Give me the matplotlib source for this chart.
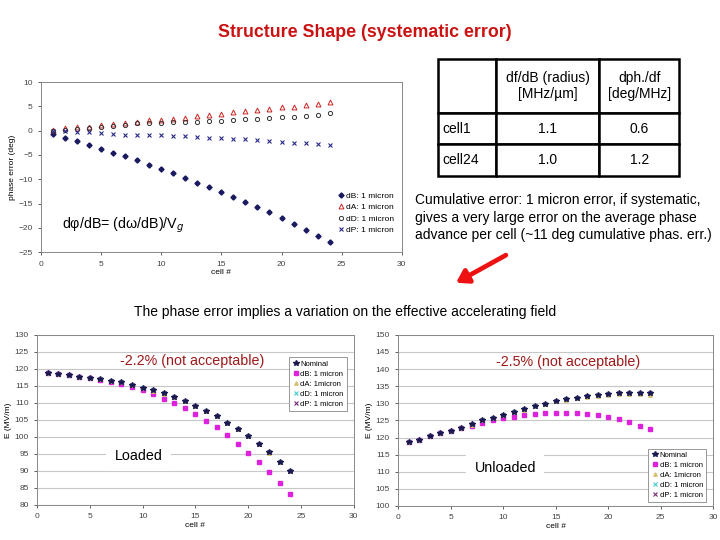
import numpy as np
import matplotlib
matplotlib.use('Agg')
import matplotlib.pyplot as plt

plt.rcParams['font.family'] = ['Liberation Sans', 'DejaVu Sans']

cells = list(range(1, 25))

# phase error (deg) per cell, 1 micron systematic error
phase_dB = [-0.7, -1.6, -2.1, -2.9, -3.7, -4.5, -5.2, -6.1, -7.0, -7.9, -8.8, -9.7,
            -10.8, -11.6, -12.6, -13.6, -14.7, -15.7, -16.8, -18.0, -19.2, -20.4, -21.7, -22.9]
phase_dA = [0.1, 0.5, 0.7, 0.8, 1.1, 1.4, 1.6, 1.8, 2.2, 2.3, 2.5, 2.7,
            3.0, 3.3, 3.5, 3.8, 4.0, 4.3, 4.5, 4.8, 4.9, 5.3, 5.5, 5.8]
phase_dD = [0.0, 0.1, 0.3, 0.5, 0.7, 1.0, 1.2, 1.5, 1.6, 1.6, 1.7, 1.7,
            1.8, 1.9, 2.0, 2.2, 2.5, 2.5, 2.6, 2.8, 2.9, 3.1, 3.3, 3.6]
phase_dP = [-0.1, -0.1, -0.2, -0.3, -0.4, -0.6, -0.8, -0.8, -0.8, -0.9, -1.0, -1.1,
            -1.4, -1.6, -1.6, -1.7, -1.8, -2.0, -2.2, -2.4, -2.5, -2.6, -2.7, -3.0]

# accelerating field E (MV/m), loaded
loaded_nom = [118.9, 118.6, 118.2, 117.7, 117.4, 117.0, 116.4, 116.1, 115.3, 114.5, 113.7, 112.8,
              111.7, 110.6, 109.2, 107.7, 106.1, 104.2, 102.3, 100.3, 97.9, 95.5, 92.7, 90.1]
loaded_dB = [118.9, 118.6, 118.2, 117.7, 117.4, 116.8, 116.2, 115.6, 114.6, 113.8, 112.5, 111.2,
             109.9, 108.4, 106.7, 104.8, 102.8, 100.5, 98.0, 95.4, 92.5, 89.6, 86.5, 83.1]
loaded_dA = [118.9, 118.6, 118.2, 117.7, 117.4, 117.0, 116.4, 116.0, 115.2, 114.4, 113.6, 112.7,
             111.6, 110.5, 109.0, 107.6, 106.0, 104.0, 102.2, 100.2, 97.8, 95.4, 92.6, 90.0]
loaded_dD = [118.9, 118.6, 118.2, 117.7, 117.4, 117.0, 116.4, 116.1, 115.3, 114.5, 113.7, 112.8,
             111.7, 110.6, 109.2, 107.7, 106.1, 104.2, 102.3, 100.3, 97.9, 95.5, 92.7, 90.1]
loaded_dP = [118.9, 118.6, 118.2, 117.7, 117.4, 117.0, 116.4, 116.1, 115.3, 114.5, 113.7, 112.8,
             111.7, 110.6, 109.2, 107.7, 106.1, 104.2, 102.3, 100.3, 97.9, 95.5, 92.7, 90.1]

# accelerating field E (MV/m), unloaded
unl_nom = [118.75, 119.4, 120.4, 121.2, 122.0, 122.9, 123.8, 125.1, 125.8, 126.6, 127.5, 128.2,
           129.2, 129.9, 130.7, 131.2, 131.6, 132.1, 132.4, 132.7, 132.9, 133.1, 133.0, 132.9]
unl_dB = [118.75, 119.4, 120.3, 121.2, 121.9, 122.7, 123.5, 124.2, 125.1, 125.6, 126.1, 126.6,
          127.0, 127.1, 127.3, 127.3, 127.2, 127.0, 126.6, 126.1, 125.4, 124.6, 123.5, 122.4]
unl_dA = [118.75, 119.4, 120.4, 121.2, 122.0, 122.9, 123.7, 125.0, 125.7, 126.5, 127.4, 128.1,
          129.1, 129.8, 130.6, 131.1, 131.4, 131.9, 132.1, 132.4, 132.6, 132.8, 132.6, 132.5]
unl_dD = [118.75, 119.4, 120.4, 121.2, 122.0, 122.9, 123.8, 125.1, 125.8, 126.6, 127.5, 128.2,
          129.2, 129.9, 130.7, 131.2, 131.6, 132.1, 132.4, 132.7, 132.9, 133.1, 133.0, 132.9]
unl_dP = [118.75, 119.4, 120.4, 121.2, 122.0, 122.9, 123.8, 125.1, 125.8, 126.6, 127.5, 128.2,
          129.2, 129.9, 130.7, 131.2, 131.6, 132.1, 132.4, 132.7, 132.9, 133.1, 133.0, 132.9]

table_cols = ['', 'df/dB (radius)\n[MHz/\u00b5m]', 'dph./df\n[deg/MHz]']
table_rows = [['cell1', '1.1', '0.6'],
              ['cell24', '1.0', '1.2']]

fig = plt.figure(figsize=(7.2, 5.4), dpi=100)

fig.text(0.507, 0.939, 'Structure Shape (systematic error)', color='#cc1111',
         fontsize=12.8, fontweight='bold', ha='center', va='center')


def style_axes(ax):
    ax.tick_params(labelsize=6, colors='#444444', length=2.5, width=0.6)
    for s in ax.spines.values():
        s.set_color('#888888')
        s.set_linewidth(0.7)


# ---- top left: phase error ----
ax1 = fig.add_axes([0.057, 0.533, 0.501, 0.315])
ax1.plot(cells, phase_dB, 'D', color='#1a1a5e', ms=2.6, label='dB: 1 micron')
ax1.plot(cells, phase_dA, '^', mfc='none', mec='#cc2222', ms=3.5, mew=0.7, label='dA: 1 micron')
ax1.plot(cells, phase_dD, 'o', mfc='none', mec='#333333', ms=3, mew=0.7, label='dD: 1 micron')
ax1.plot(cells, phase_dP, 'x', color='#2a2a8a', ms=3.5, mew=0.8, label='dP: 1 micron')
ax1.set_xlim(0, 30)
ax1.set_ylim(-25, 10)
ax1.set_xticks(range(0, 31, 5))
ax1.set_yticks(range(-25, 11, 5))
ax1.set_xlabel('cell #', fontsize=6, labelpad=1)
ax1.set_ylabel('phase error (deg)', fontsize=6, labelpad=2)
style_axes(ax1)
ax1.text(0.058, 0.16, 'd\u03c6/dB= (d\u03c9/dB)/V$_g$', transform=ax1.transAxes,
         fontsize=10.3, va='center')
ax1.legend(loc='center right', bbox_to_anchor=(1.0, 0.23), fontsize=6, frameon=False,
           handletextpad=0.1, handlelength=1.0, labelspacing=0.4)

# ---- table ----
tax = fig.add_axes([0.608, 0.674, 0.335, 0.217])
tax.axis('off')
tbl = tax.table(cellText=table_rows, colLabels=table_cols, bbox=[0, 0, 1, 1],
                colWidths=[0.24, 0.43, 0.33], cellLoc='center')
tbl.auto_set_font_size(False)
tbl.set_fontsize(10)
for (r, c), cell in tbl.get_celld().items():
    cell.set_linewidth(1.8)
    if c == 0 and r > 0:
        cell.set_text_props(ha='left')
        cell.PAD = 0.08
tax_h = [0.46, 0.27, 0.27]
for (r, c), cell in tbl.get_celld().items():
    cell.set_height(tax_h[r])

fig.text(0.577, 0.597, 'Cumulative error: 1 micron error, if systematic,\n'
         'gives a very large error on the average phase\n'
         'advance per cell (~11 deg cumulative phas. err.)',
         fontsize=10.0, va='center', ha='left', linespacing=1.3)

fig.patches.append(matplotlib.patches.FancyArrowPatch(
    (0.706, 0.530), (0.630, 0.474), transform=fig.transFigure,
    arrowstyle='-|>,head_length=7,head_width=4.5', color='#ee1111', lw=3.4))

fig.text(0.479, 0.422, 'The phase error implies a variation on the effective accelerating field',
         fontsize=10, ha='center', va='center')


def field_plot(rect, nom, dB, dA, dD, dP, ylim, note, note_xy, tag, tag_xy, leg_loc, leg_anchor):
    ax = fig.add_axes(rect)
    ax.yaxis.grid(True, color='#c8c8c8', lw=0.8)
    ax.set_axisbelow(True)
    ax.plot(cells, nom, '*', color='#1a1a50', ms=4, label='Nominal', zorder=3)
    ax.plot(cells, dB, 's', color='#dd22dd', ms=2.5, label='dB: 1 micron', zorder=2)
    ax.plot(cells, dA, '^', color='#d8c070', ms=2.5, label='dA: 1micron', zorder=2)
    ax.plot(cells, dD, 'x', color='#44cccc', ms=3, mew=0.8, label='dD: 1 micron', zorder=2)
    ax.plot(cells, dP, 'x', color='#7a2a7a', ms=3, mew=0.8, label='dP: 1 micron', zorder=2)
    ax.set_xlim(0, 30)
    ax.set_ylim(*ylim)
    ax.set_xticks(range(0, 31, 5))
    ax.set_yticks(range(ylim[0], ylim[1] + 1, 5))
    ax.set_xlabel('cell #', fontsize=6, labelpad=1)
    ax.set_ylabel('E (MV/m)', fontsize=6, labelpad=2)
    style_axes(ax)
    ax.text(*note_xy, note, transform=ax.transAxes, color='#a01818', fontsize=10.3,
            ha='center', va='center')
    ax.text(*tag_xy, tag, transform=ax.transAxes, fontsize=10.3, ha='center', va='center',
            bbox=dict(facecolor='white', edgecolor='none', pad=6), zorder=4)
    leg = ax.legend(loc=leg_loc, bbox_to_anchor=leg_anchor, fontsize=5.5, handletextpad=0.1,
                    handlelength=1.0, labelspacing=0.35, borderpad=0.4, fancybox=False,
                    framealpha=1)
    leg.get_frame().set_edgecolor('#888888')
    leg.get_frame().set_linewidth(0.6)
    return ax


field_plot([0.0514, 0.065, 0.440, 0.315], loaded_nom, loaded_dB, loaded_dA, loaded_dD, loaded_dP,
           (80, 130), '-2.2% (not acceptable)', (0.49, 0.847), 'Loaded', (0.32, 0.29),
           'upper right', (0.99, 0.89))
field_plot([0.553, 0.063, 0.4375, 0.317], unl_nom, unl_dB, unl_dA, unl_dD, unl_dP,
           (100, 150), '-2.5% (not acceptable)', (0.54, 0.84), 'Unloaded', (0.34, 0.22),
           'lower right', (0.99, 0.0))

plt.savefig('out.png', dpi=100)
